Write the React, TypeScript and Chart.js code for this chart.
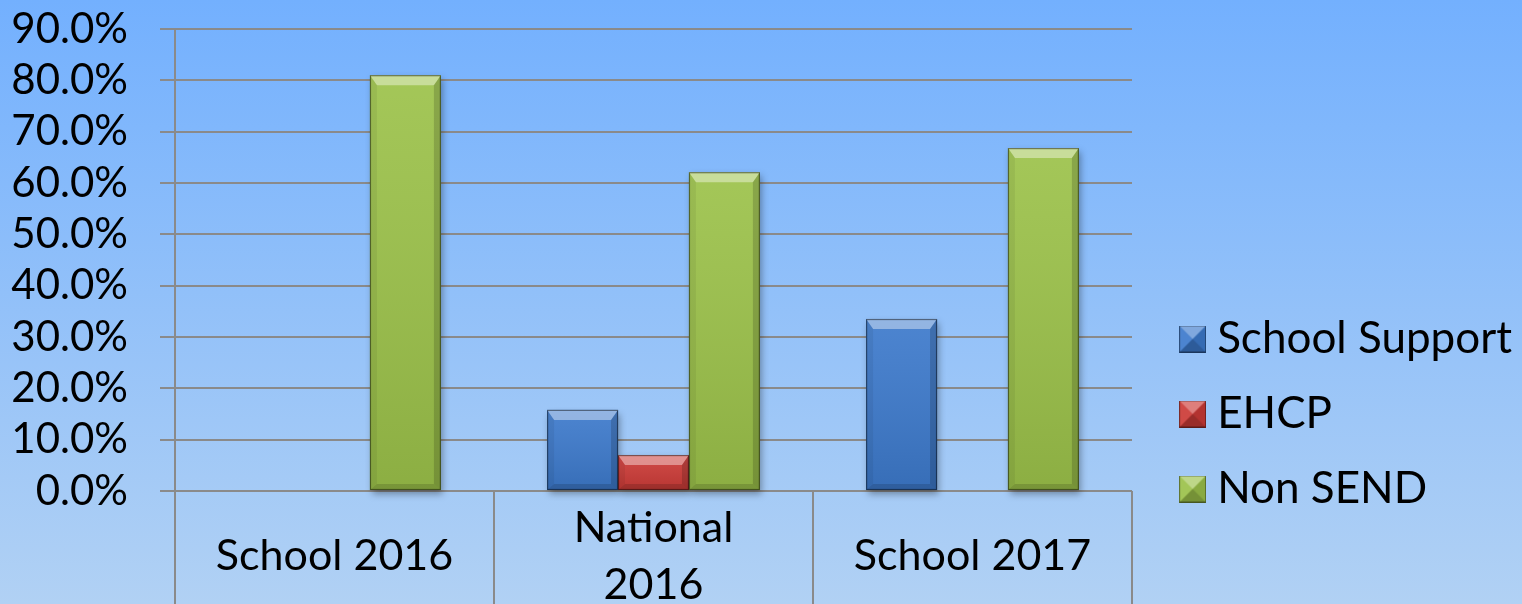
import React, { useEffect, useRef } from 'react';
import { Chart, registerables } from 'chart.js';

Chart.register(...registerables);

const categories: (string | string[])[] = ['School 2016', ['National', '2016'], 'School 2017'];
const seriesNames = ['School Support', 'EHCP', 'Non SEND'];
const schoolSupport = [0, 15.8, 33.5];
const ehcp = [0, 7.0, 0];
const nonSend = [81.0, 62.1, 66.8];
const seriesColors = ['#3d7acc', '#cc3b37', '#9cc24a'];
const yMin = 0;
const yMax = 90;
const yStep = 10;

const FONT = 'Lato';
const GRID = '#8a8a8a';

function makeIcon(color: string, size = 27): HTMLCanvasElement {
  const c = document.createElement('canvas');
  c.width = size;
  c.height = size;
  const g = c.getContext('2d')!;
  g.fillStyle = color;
  g.fillRect(0, 0, size, size);
  const m = size / 2;
  const tri = (pts: number[][], fill: string) => {
    g.beginPath();
    g.moveTo(pts[0][0], pts[0][1]);
    for (let i = 1; i < pts.length; i++) g.lineTo(pts[i][0], pts[i][1]);
    g.closePath();
    g.fillStyle = fill;
    g.fill();
  };
  tri([[0, 0], [size, 0], [m, m]], 'rgba(255,255,255,0.35)');
  tri([[0, 0], [m, m], [0, size]], 'rgba(255,255,255,0.08)');
  tri([[size, 0], [size, size], [m, m]], 'rgba(0,0,0,0.12)');
  tri([[0, size], [m, m], [size, size]], 'rgba(0,0,0,0.25)');
  g.strokeStyle = 'rgba(0,0,0,0.4)';
  g.lineWidth = 1;
  g.strokeRect(0.5, 0.5, size - 1, size - 1);
  return c;
}

function poly(ctx: CanvasRenderingContext2D, pts: number[][], fill: string | CanvasGradient) {
  ctx.beginPath();
  ctx.moveTo(pts[0][0], pts[0][1]);
  for (let i = 1; i < pts.length; i++) ctx.lineTo(pts[i][0], pts[i][1]);
  ctx.closePath();
  ctx.fillStyle = fill;
  ctx.fill();
}

function eachBar(chart: any, fn: (ctx: CanvasRenderingContext2D, b: any, color: string) => void) {
  const ctx = chart.ctx as CanvasRenderingContext2D;
  chart.data.datasets.forEach((ds: any, i: number) => {
    const meta = chart.getDatasetMeta(i);
    if (meta.hidden) return;
    meta.data.forEach((el: any) => {
      const p = el.getProps(['x', 'y', 'base', 'width'], true);
      const h = p.base - p.y;
      if (h < 1) return;
      fn(ctx, { x0: p.x - p.width / 2, x1: p.x + p.width / 2, y0: p.y, y1: p.base, w: p.width, h }, ds.backgroundColor);
    });
  });
}

const bevelPlugin = {
  id: 'bevel',
  beforeDatasetsDraw(chart: any) {
    eachBar(chart, (ctx, b, color) => {
      ctx.save();
      ctx.shadowColor = 'rgba(0,0,0,0.35)';
      ctx.shadowBlur = 7;
      ctx.shadowOffsetX = 2;
      ctx.shadowOffsetY = 4;
      ctx.fillStyle = color;
      ctx.fillRect(b.x0, b.y0, b.w, b.h);
      ctx.restore();
    });
  },
  afterDatasetsDraw(chart: any) {
    eachBar(chart, (ctx, b) => {
      const { x0, x1, y0, y1, w, h } = b;
      const bt = Math.min(10, h / 2, w / 2);
      const bs = Math.min(7, w / 2);
      const bb = Math.min(6, h / 2);
      ctx.save();
      const grad = ctx.createLinearGradient(0, y0, 0, y1);
      grad.addColorStop(0, 'rgba(255,255,255,0.08)');
      grad.addColorStop(1, 'rgba(0,0,0,0.1)');
      ctx.fillStyle = grad;
      ctx.fillRect(x0, y0, w, h);
      poly(ctx, [[x0, y0], [x1, y0], [x1 - bs, y0 + bt], [x0 + bs, y0 + bt]], 'rgba(255,255,255,0.4)');
      poly(ctx, [[x0, y0], [x0 + bs, y0 + bt], [x0 + bs, y1 - bb], [x0, y1]], 'rgba(0,0,0,0.06)');
      poly(ctx, [[x1, y0], [x1, y1], [x1 - bs, y1 - bb], [x1 - bs, y0 + bt]], 'rgba(0,0,0,0.16)');
      poly(ctx, [[x0, y1], [x0 + bs, y1 - bb], [x1 - bs, y1 - bb], [x1, y1]], 'rgba(0,0,0,0.14)');
      ctx.strokeStyle = 'rgba(0,0,0,0.45)';
      ctx.lineWidth = 1.2;
      ctx.strokeRect(x0 + 0.5, y0 + 0.5, w - 1, h - 1);
      ctx.restore();
    });
  },
};

export default function App() {
  const ref = useRef<HTMLCanvasElement>(null);

  useEffect(() => {
    if (!ref.current) return;
    const icons = seriesColors.map((c) => makeIcon(c));
    const values = [schoolSupport, ehcp, nonSend];
    const chart = new Chart(ref.current, {
      type: 'bar',
      data: {
        labels: categories as any,
        datasets: seriesNames.map((name, i) => ({
          label: name,
          data: values[i],
          backgroundColor: seriesColors[i],
          borderWidth: 0,
          barPercentage: 1,
          categoryPercentage: 0.667,
        })),
      },
      options: {
        animation: false,
        responsive: true,
        maintainAspectRatio: false,
        layout: { padding: { top: 29, left: 0, right: 0, bottom: 0 } },
        plugins: {
          tooltip: { enabled: false },
          legend: {
            position: 'right',
            align: 'start',
            maxWidth: 420,
            title: { display: true, text: '', padding: { top: 245, bottom: 0 }, font: { size: 10 } },
            labels: {
              usePointStyle: true,
              boxWidth: 5,
              padding: 31,
              color: '#000',
              font: { family: FONT, size: 44 },
              generateLabels: (ch: any) => {
                const items = (Chart.defaults.plugins.legend.labels as any).generateLabels(ch);
                return items.map((it: any, i: number) => ({ ...it, pointStyle: icons[i] }));
              },
            },
          },
        },
        scales: {
          x: {
            type: 'category',
            offset: true,
            grid: {
              offset: true,
              drawOnChartArea: false,
              drawTicks: true,
              tickLength: 113,
              color: GRID,
              lineWidth: 2,
            },
            border: { display: false },
            ticks: {
              color: '#000',
              font: { family: FONT, size: 43, lineHeight: 1.32 },
              padding: -76,
              crossAlign: 'center',
              maxRotation: 0,
              autoSkip: false,
            },
            afterFit: (s: any) => {
              s.height = 113;
            },
          },
          y: {
            type: 'linear',
            min: yMin,
            max: yMax,
            position: 'left',
            grid: { color: GRID, lineWidth: 2, tickLength: 15, drawTicks: true },
            border: { display: true, color: GRID, width: 2 },
            ticks: {
              stepSize: yStep,
              autoSkip: false,
              color: '#000',
              padding: 32,
              font: { family: FONT, size: 42 },
              callback: (v: any) => Number(v).toFixed(1) + '%',
            },
            afterFit: (s: any) => {
              s.width = 175;
              s.paddingTop = 0;
              s.paddingBottom = 0;
            },
          },
          spacer: {
            type: 'linear',
            position: 'right',
            display: true,
            grid: { display: false },
            border: { display: false },
            ticks: { display: false },
            afterFit: (s: any) => {
              const lw = s.chart.legend ? s.chart.legend.width : 0;
              s.width = Math.max(0, s.chart.width - lw - 1132);
              s.paddingTop = 0;
              s.paddingBottom = 0;
            },
          },
        },
      } as any,
      plugins: [bevelPlugin],
    });
    return () => chart.destroy();
  }, []);

  return (
    <div
      style={{
        position: 'fixed',
        left: 0,
        top: 0,
        width: 1522,
        height: 604,
        background: 'linear-gradient(to bottom, #73b0fe 0%, #b1d1f4 100%)',
      }}
    >
      <canvas ref={ref} />
    </div>
  );
}
